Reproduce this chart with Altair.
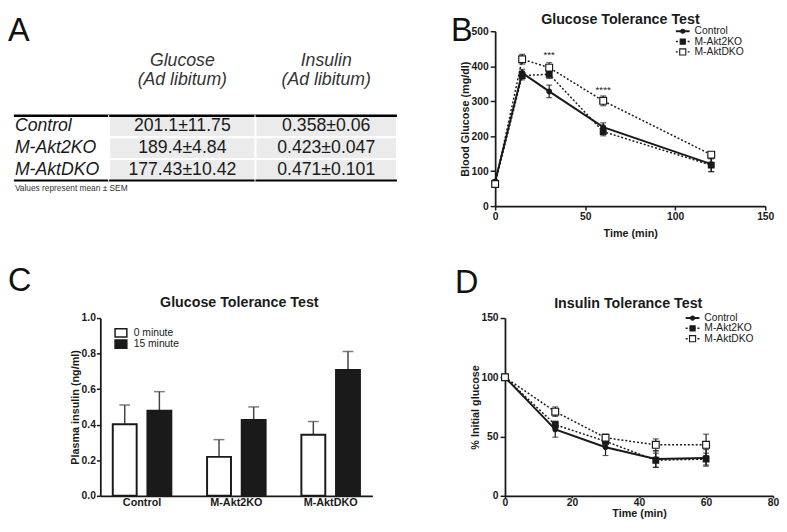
import altair as alt
import pandas as pd

FONT = "Liberation Sans"
INK = "#1a1a1a"

# ---------------- data ----------------
table_rows = ["Control", "M-Akt2KO", "M-AktDKO"]
table_glucose = ["201.1±11.75", "189.4±4.84", "177.43±10.42"]
table_insulin = ["0.358±0.06", "0.423±0.047", "0.471±0.101"]
table_head_glucose = "Glucose\n(Ad libitum)"
table_head_insulin = "Insulin\n(Ad libitum)"
table_note = "Values represent mean ± SEM"

series_names = ["Control", "M-Akt2KO", "M-AktDKO"]

gtt_time = [0, 15, 30, 60, 120]
gtt_control = [70, 381, 328, 226, 120]
gtt_control_sem = [6, 10, 18, 12, 22]
gtt_akt2ko = [65, 373, 377, 213, 117]
gtt_akt2ko_sem = [6, 12, 12, 12, 18]
gtt_aktdko = [63, 420, 396, 301, 147]
gtt_aktdko_sem = [6, 14, 14, 14, 8]
gtt_star_time = [30, 60]
gtt_star_value = [432, 333]
gtt_star_text = ["***", "****"]

ins_groups = ["Control", "M-Akt2KO", "M-AktDKO"]
ins_times = ["0 minute", "15 minute"]
ins_0min = [0.403, 0.219, 0.343]
ins_0min_sem = [0.108, 0.097, 0.075]
ins_15min = [0.478, 0.427, 0.708]
ins_15min_sem = [0.108, 0.073, 0.104]

itt_time = [0, 15, 30, 45, 60]
itt_control = [100, 56, 41, 31, 32]
itt_control_sem = [0, 6.5, 7, 7, 7]
itt_akt2ko = [100, 60, 46, 30, 31]
itt_akt2ko_sem = [0, 3, 3, 6, 5]
itt_aktdko = [100, 71, 49, 43, 43]
itt_aktdko_sem = [0, 4, 3, 5, 9]

# ---------------- helpers ----------------
def text_layer(txt, x, y, **kw):
    props = dict(font=FONT, color=INK)
    props.update(kw)
    return alt.Chart(pd.DataFrame({"t": [txt]})).mark_text(**props).encode(
        text="t:N", x=alt.value(x), y=alt.value(y))


def letter(ch, x, y):
    return text_layer(ch, x, y, fontSize=33, align="left", baseline="top", color="#111111")


def spacer(w):
    return alt.Chart(pd.DataFrame({"z": [0]})).mark_point(opacity=0).properties(width=w, height=1)


# ---------------- panel A (table) ----------------
T_H = 152
T_TOP = 86


def table_column(values, width, kind, header=None, extra=None):
    df = pd.DataFrame({"row": table_rows, "val": values})

    def yenc(**kw):
        return alt.Y("row:N", sort=table_rows, axis=None,
                     scale=alt.Scale(paddingInner=0, paddingOuter=0, range=[T_TOP, T_H]), **kw)

    base = alt.Chart(df)
    layers = []
    if kind != "label":
        layers.append(base.mark_rect(fill="#ebebeb", stroke="#ffffff", strokeWidth=2).encode(
            y=yenc(), x=alt.value(0), x2=alt.value(width)))
    layers.append(base.mark_text(
        font=FONT, fontSize=18, color=INK,
        align="left" if kind == "label" else "center", baseline="middle",
        fontStyle="italic" if kind == "label" else "normal").encode(
        y=yenc(), x=alt.value(1 if kind == "label" else width / 2), text="val:N"))
    layers.append(base.transform_filter(alt.datum.row == table_rows[0]).mark_rule(
        color="#000000", strokeWidth=2.5).encode(
        y=yenc(bandPosition=0), x=alt.value(0), x2=alt.value(width)))
    layers.append(base.transform_filter(alt.datum.row == table_rows[-1]).mark_rule(
        color="#000000", strokeWidth=2).encode(
        y=yenc(bandPosition=1), x=alt.value(0), x2=alt.value(width)))
    if header:
        layers.append(text_layer(header, width / 2, 21.5, fontSize=18, fontStyle="italic",
                                 align="center", baseline="top", lineBreak="\n",
                                 lineHeight=19, color="#333333"))
    if extra:
        layers.extend(extra)
    return alt.layer(*layers).properties(width=width, height=T_H)


colA1 = table_column(table_rows, 97, "label", extra=[
    text_layer(table_note, 1, 160, fontSize=8.5, align="left", baseline="middle", color="#333333"),
    letter("A", -6, -16),
])
colA2 = table_column(table_glucose, 149, "value", header=table_head_glucose)
colA3 = table_column(table_insulin, 144, "value", header=table_head_insulin)

# ---------------- panels B & D (time courses) ----------------
STYLES = {
    "Control": dict(dash=None, width=2, shape="circle", fill=INK, size=22),
    "M-Akt2KO": dict(dash=[2, 2], width=1.5, shape="square", fill=INK, size=34),
    "M-AktDKO": dict(dash=[2, 2], width=1.5, shape="square", fill="#ffffff", size=48),
}


def timecourse(times, means, sems, W, H, xmax, xticks, ymax, yticks, ytitle, title,
               title_dx, title_y, letter_xy, x_title_y, x_tick, x_lpad, cap=6, stars=None):
    rows = []
    for name, m, s in zip(series_names, means, sems):
        for t, v, e in zip(times, m, s):
            rows.append({"series": name, "t": t, "v": v, "lo": v - e, "hi": v + e, "e": e})
    df = pd.DataFrame(rows)

    def Xf(field):
        return alt.X(f"{field}:Q", scale=alt.Scale(domain=[0, xmax], nice=False),
                     axis=alt.Axis(values=xticks, title="Time (min)", tickSize=x_tick,
                                   labelPadding=x_lpad, titleY=x_title_y,
                                   titleBaseline="middle", labelFlush=False))

    def Yf(field):
        return alt.Y(f"{field}:Q", scale=alt.Scale(domain=[0, ymax], nice=False),
                     axis=alt.Axis(values=yticks, title=ytitle, titleX=-30,
                                   titleBaseline="middle", labelFlush=False))

    base = alt.Chart(df)
    layers = []
    for name in series_names[::-1]:
        st = STYLES[name]
        kw = dict(color=INK, strokeWidth=st["width"])
        if st["dash"]:
            kw["strokeDash"] = st["dash"]
        layers.append(base.transform_filter(alt.datum.series == name).mark_line(**kw).encode(
            x=Xf("t"), y=Yf("v")))
    eb = alt.Chart(df[df["e"] > 0])
    layers.append(eb.mark_rule(color=INK, strokeWidth=1.2).encode(
        x=Xf("t"), y=Yf("lo"), y2=alt.Y2("hi:Q")))
    layers.append(eb.transform_fold(["lo", "hi"], as_=["k", "cap"]).mark_tick(
        orient="horizontal", size=cap, thickness=1.2, color=INK).encode(
        x=Xf("t"), y=Yf("cap")))
    for name in series_names:
        st = STYLES[name]
        layers.append(base.transform_filter(alt.datum.series == name).mark_point(
            shape=st["shape"], filled=True, fill=st["fill"], stroke=INK, strokeWidth=1.2,
            size=st["size"], opacity=1).encode(x=Xf("t"), y=Yf("v")))
    if stars:
        sdf = pd.DataFrame({"t": stars[0], "v": stars[1], "s": stars[2]})
        layers.append(alt.Chart(sdf).mark_text(font=FONT, fontSize=10, color=INK,
                                               baseline="middle").encode(
            x=Xf("t"), y=Yf("v"), text="s:N"))
    # legend
    for i, name in enumerate(series_names):
        st = STYLES[name]
        yy = i * 10.5
        ldf = pd.DataFrame({"s": [name]})
        kw = dict(color=INK, strokeWidth=st["width"])
        if st["dash"]:
            kw["strokeDash"] = st["dash"]
        layers.append(alt.Chart(ldf).mark_rule(**kw).encode(
            x=alt.value(184), x2=alt.value(198), y=alt.value(yy)))
        layers.append(alt.Chart(ldf).mark_point(
            shape=st["shape"], filled=True, fill=st["fill"], stroke=INK, strokeWidth=1.1,
            size=st["size"] * 0.8, opacity=1).encode(x=alt.value(191), y=alt.value(yy)))
        layers.append(alt.Chart(ldf).mark_text(font=FONT, fontSize=10.5, color=INK,
                                               align="left", baseline="middle").encode(
            text="s:N", x=alt.value(203), y=alt.value(yy)))
    layers.append(text_layer(title, W / 2 + title_dx, title_y, fontSize=14.5, fontWeight="bold",
                             align="center", baseline="alphabetic"))
    layers.append(letter(letter_xy[0], letter_xy[1], letter_xy[2]))
    return alt.layer(*layers).properties(width=W, height=H)


B_W, B_H = 275, 178
panelB = timecourse(gtt_time, [gtt_control, gtt_akt2ko, gtt_aktdko],
                    [gtt_control_sem, gtt_akt2ko_sem, gtt_aktdko_sem],
                    B_W, B_H, 150, [0, 50, 100, 150], 500, [0, 100, 200, 300, 400, 500],
                    "Blood Glucose (mg/dl)", "Glucose Tolerance Test", -10, -7,
                    ("B", -45, -16), 28, 4, 2,
                    stars=(gtt_star_time, gtt_star_value, gtt_star_text))

D_W, D_H = 273, 181
panelD = timecourse(itt_time, [itt_control, itt_akt2ko, itt_aktdko],
                    [itt_control_sem, itt_akt2ko_sem, itt_aktdko_sem],
                    D_W, D_H, 80, [0, 20, 40, 60, 80], 150, [0, 50, 100, 150],
                    "% Initial glucose", "Insulin Tolerance Test", -11, -10,
                    ("D", -51, -52), 18, 2, 0)

# ---------------- panel C (bars) ----------------
C_W, C_H = 277, 181
crows = []
for g, v0, e0, v15, e15 in zip(ins_groups, ins_0min, ins_0min_sem, ins_15min, ins_15min_sem):
    crows.append({"group": g, "time": ins_times[0], "v": v0, "hi": v0 + e0})
    crows.append({"group": g, "time": ins_times[1], "v": v15, "hi": v15 + e15})
cdf = pd.DataFrame(crows)

CX = alt.X("group:N", sort=ins_groups,
           scale=alt.Scale(paddingInner=0.379, paddingOuter=0.132),
           axis=alt.Axis(title=None, ticks=False, labelAngle=0, labelPadding=1, labelFontSize=11))
CXO = alt.XOffset("time:N", sort=ins_times, scale=alt.Scale(paddingInner=0.31, paddingOuter=0))


def CY(field):
    return alt.Y(f"{field}:Q", scale=alt.Scale(domain=[0, 1], nice=False),
                 axis=alt.Axis(values=[0, 0.2, 0.4, 0.6, 0.8, 1.0], format=".1f",
                               title="Plasma insulin (ng/ml)", titleX=-25,
                               titleBaseline="middle", tickSize=4, labelPadding=1,
                               labelFlush=False))


cbase = alt.Chart(cdf)
c_layers = [
    cbase.mark_rule(color="#444444", strokeWidth=1.5).encode(
        x=CX, xOffset=CXO, y=CY("v"), y2=alt.Y2("hi:Q")),
    cbase.mark_tick(orient="horizontal", size=11, thickness=1.5, color="#444444").encode(
        x=CX, xOffset=CXO, y=CY("hi")),
    cbase.mark_bar(stroke=INK, strokeWidth=2).encode(
        x=CX, xOffset=CXO, y=CY("v"),
        fill=alt.Fill("time:N", sort=ins_times,
                      scale=alt.Scale(domain=ins_times, range=["#ffffff", INK]), legend=None)),
]
for i, tlab in enumerate(ins_times):
    ldf = pd.DataFrame({"s": [tlab]})
    yy = 15 + 11.5 * i
    c_layers.append(alt.Chart(ldf).mark_point(
        shape="M-1,-0.7H1V0.7H-1Z", filled=True, fill=["#ffffff", INK][i], stroke=INK,
        strokeWidth=1.5, size=144, opacity=1).encode(x=alt.value(21), y=alt.value(yy)))
    c_layers.append(alt.Chart(ldf).mark_text(font=FONT, fontSize=10.5, color=INK,
                                             align="left", baseline="middle").encode(
        text="s:N", x=alt.value(34), y=alt.value(yy)))
c_layers.append(text_layer("Glucose Tolerance Test", C_W / 2 + 3, -11, fontSize=14.5,
                           fontWeight="bold", align="center", baseline="alphabetic"))
c_layers.append(letter("C", -94, -54))
panelC = alt.layer(*c_layers).properties(width=C_W, height=C_H)

# ---------------- layout ----------------
row1 = alt.hconcat(colA1, colA2, colA3, spacer(100), panelB, spacing=0, bounds="flush")
row2 = alt.hconcat(spacer(88), panelC, spacer(135), panelD, spacing=0, bounds="flush")
chart = alt.vconcat(row1, row2, spacing=292, bounds="flush").properties(
    padding=0).configure_view(stroke=None).configure_axis(
    domainColor=INK, domainWidth=1.8, tickColor=INK, tickWidth=1.5, tickSize=5,
    labelFont=FONT, labelFontWeight="bold", labelFontSize=10.5, labelColor=INK, labelPadding=2,
    titleFont=FONT, titleFontWeight="bold", titleFontSize=11, titleColor=INK, grid=False,
)

chart.save("out.html", embed_options={"renderer": "svg", "actions": False})
